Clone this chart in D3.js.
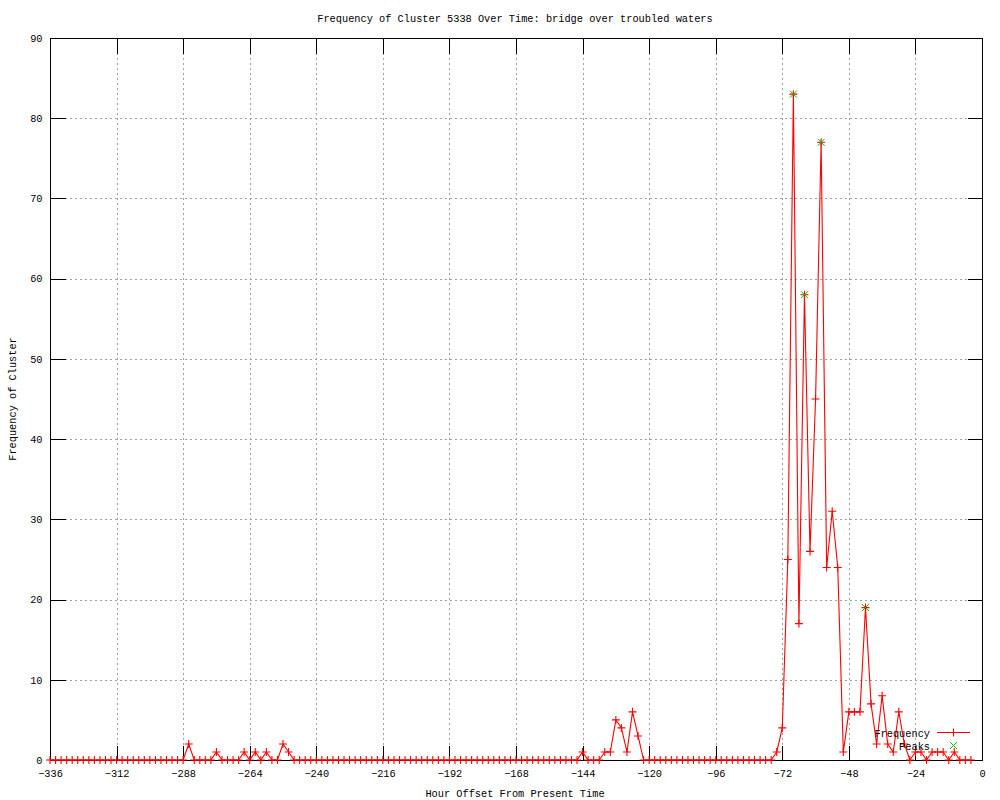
<!DOCTYPE html>
<html>
<head>
<meta charset="utf-8">
<script src="https://cdn.jsdelivr.net/npm/d3@7"></script>
<style>
  body { margin: 0; background: #fff; }
  text { font-family: "Liberation Mono", "DejaVu Sans Mono", monospace; font-size: 10.3px; fill: #000; }
</style>
</head>
<body>
<div id="chart"></div>
<script>
// samples every 2 hours, -336 .. -4
const hours = d3.range(-336, -2, 2);
const frequency = [
  0,0,0,0,0,0,0,0,0,0,0,0,        // -336 .. -314
  0,0,0,0,0,0,0,0,0,0,0,0,        // -312 .. -290
  0,2,0,0,0,0,1,0,0,0,0,1,        // -288 .. -266
  0,1,0,1,0,0,2,1,0,0,0,0,        // -264 .. -242
  0,0,0,0,0,0,0,0,0,0,0,0,        // -240 .. -218
  0,0,0,0,0,0,0,0,0,0,0,0,        // -216 .. -194
  0,0,0,0,0,0,0,0,0,0,0,0,        // -192 .. -170
  0,0,0,0,0,0,0,0,0,0,0,0,        // -168 .. -146
  1,0,0,0,1,1,5,4,1,6,3,0,        // -144 .. -122
  0,0,0,0,0,0,0,0,0,0,0,0,        // -120 .. -98
  0,0,0,0,0,0,0,0,0,0,0,1,        // -96 .. -74
  4,25,83,17,58,26,45,77,24,31,24,1, // -72 .. -50
  6,6,6,19,7,2,8,2,1,6,2,0,       // -48 .. -26
  1,1,0,1,1,1,0,1,0,0,0           // -24 .. -4
];
const peakHours = [-68, -64, -58, -42];
const peakValues = [83, 58, 77, 19];

const xTicks = [-336,-312,-288,-264,-240,-216,-192,-168,-144,-120,-96,-72,-48,-24,0];
const yTicks = [0,10,20,30,40,50,60,70,80,90];

const title = 'Frequency of Cluster 5338 Over Time: bridge over troubled waters';
const xLabel = 'Hour Offset From Present Time';
const yLabel = 'Frequency of Cluster';

const W = 1000, H = 800;
const plot = {left: 50, right: 982, top: 38, bottom: 760};
const tickLen = 15;

const x = d3.scaleLinear().domain([-336, 0]).range([plot.left, plot.right]);
const y = d3.scaleLinear().domain([0, 90]).range([plot.bottom, plot.top]);

const svg = d3.select('#chart').append('svg')
    .attr('width', W)
    .attr('height', H);

svg.append('rect').attr('width', W).attr('height', H).attr('fill', '#fff');

const px = v => Math.round(v) + 0.5;

// grid
const grid = svg.append('g').attr('shape-rendering', 'crispEdges');
grid.selectAll('.gx').data(xTicks.slice(1, -1)).enter().append('line')
    .attr('x1', d => px(x(d))).attr('x2', d => px(x(d)))
    .attr('y1', plot.top).attr('y2', plot.bottom)
    .attr('stroke', '#a0a0a0').attr('stroke-dasharray', '2,3');
grid.selectAll('.gy').data(yTicks.slice(1, -1)).enter().append('line')
    .attr('y1', d => px(y(d))).attr('y2', d => px(y(d)))
    .attr('x1', plot.left).attr('x2', plot.right)
    .attr('stroke', '#a0a0a0').attr('stroke-dasharray', '2,3');

// axes, ticks mirrored on all four sides
const axisG = svg.append('g').attr('shape-rendering', 'crispEdges');

const bottomAxis = axisG.append('g')
    .attr('transform', `translate(0,${px(plot.bottom)})`)
    .call(d3.axisBottom(x).tickValues(xTicks).tickSizeInner(-tickLen).tickSizeOuter(0));
const leftAxis = axisG.append('g')
    .attr('transform', `translate(${px(plot.left)},0)`)
    .call(d3.axisLeft(y).tickValues(yTicks).tickSizeInner(-tickLen).tickSizeOuter(0));
const topAxis = axisG.append('g')
    .attr('transform', `translate(0,${px(plot.top)})`)
    .call(d3.axisTop(x).tickValues(xTicks).tickSizeInner(-tickLen).tickSizeOuter(0).tickFormat(''));
const rightAxis = axisG.append('g')
    .attr('transform', `translate(${px(plot.right)},0)`)
    .call(d3.axisRight(y).tickValues(yTicks).tickSizeInner(-tickLen).tickSizeOuter(0).tickFormat(''));

[bottomAxis, leftAxis, topAxis, rightAxis].forEach(g => {
    g.selectAll('.domain').remove();
    g.selectAll('.tick line').attr('stroke', '#000');
    g.selectAll('.tick text').attr('font-family', null).attr('font-size', null).attr('fill', '#000');
});
bottomAxis.selectAll('.tick text').attr('dy', '0.35em').attr('y', 13);
leftAxis.selectAll('.tick text').attr('x', -8);

// border
svg.append('rect')
    .attr('x', px(plot.left)).attr('y', px(plot.top))
    .attr('width', Math.round(plot.right - plot.left)).attr('height', Math.round(plot.bottom - plot.top))
    .attr('fill', 'none').attr('stroke', '#000').attr('shape-rendering', 'crispEdges');

// frequency line
const pts = hours.map((h, i) => [h, frequency[i]]);
const line = d3.line().x(d => x(d[0])).y(d => y(d[1]));

svg.append('path')
    .datum(pts)
    .attr('d', line)
    .attr('fill', 'none')
    .attr('stroke', '#ff0000')
    .attr('stroke-width', 1.1);

const plusSize = 4;
const plus = (g, cx, cy, col) => {
    g.append('path')
        .attr('d', `M${cx - plusSize},${cy}H${cx + plusSize}M${cx},${cy - plusSize}V${cy + plusSize}`)
        .attr('stroke', col).attr('stroke-width', 1.1).attr('fill', 'none');
};
const cross = (g, cx, cy, col) => {
    const s = 3.5;
    g.append('path')
        .attr('d', `M${cx - s},${cy - s}L${cx + s},${cy + s}M${cx - s},${cy + s}L${cx + s},${cy - s}`)
        .attr('stroke', col).attr('stroke-width', 1).attr('fill', 'none');
};

const marks = svg.append('g');
pts.forEach(d => plus(marks, x(d[0]), y(d[1]), '#ff0000'));

const peakG = svg.append('g');
peakHours.forEach((h, i) => cross(peakG, x(h), y(peakValues[i]), '#00c000'));

// legend
const leg = svg.append('g');
leg.append('text').attr('x', 930).attr('y', 737).attr('text-anchor', 'end').text('Frequency');
leg.append('line').attr('x1', 937).attr('x2', 970).attr('y1', 732.5).attr('y2', 732.5)
    .attr('stroke', '#ff0000').attr('stroke-width', 1.1);
plus(leg, 953.5, 732.5, '#ff0000');
leg.append('text').attr('x', 930).attr('y', 750).attr('text-anchor', 'end').text('Peaks');
cross(leg, 953.5, 745.5, '#00c000');

// titles
svg.append('text').attr('x', 515).attr('y', 22).attr('text-anchor', 'middle').text(title);
svg.append('text').attr('x', 515).attr('y', 797).attr('text-anchor', 'middle').text(xLabel);
svg.append('text')
    .attr('transform', 'translate(16,399) rotate(-90)')
    .attr('text-anchor', 'middle')
    .text(yLabel);
</script>
</body>
</html>
